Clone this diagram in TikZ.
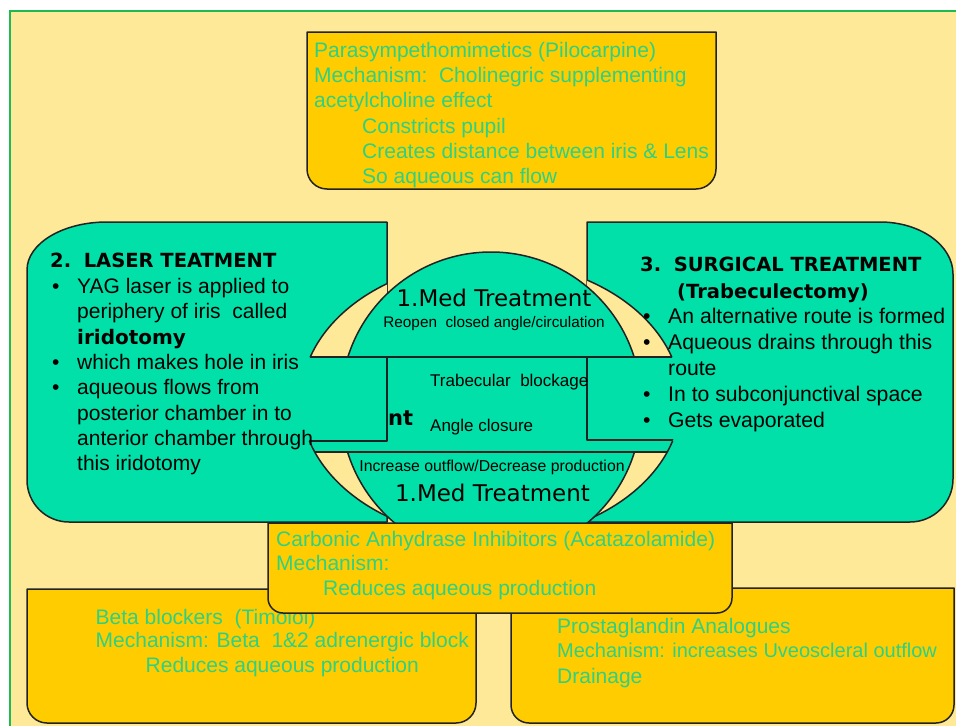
\documentclass[tikz,border=0pt]{standalone}
\usepackage{fontspec}
\setmainfont{Liberation Sans}
\newfontfamily\dejavu{DejaVu Sans}
\definecolor{bgy}{RGB}{254,233,152}
\definecolor{tealf}{RGB}{0,224,168}
\definecolor{goldf}{RGB}{255,204,0}
\definecolor{txtg}{RGB}{46,208,132}
\definecolor{brdg}{RGB}{30,185,80}
\definecolor{edge}{RGB}{34,34,34}
\tikzset{
  outl/.style={draw=edge, line width=1.5pt, line join=round},
  gtxt/.style={anchor=base west, inner sep=0pt, text=txtg, font=\fontsize{21}{25}\selectfont},
  btxt/.style={anchor=base west, inner sep=0pt, text=black, font=\fontsize{21}{25}\selectfont},
  rtxt/.style={anchor=base west, inner sep=0pt, text=black, font=\fontsize{21.2}{25}\selectfont},
  bhead/.style={anchor=base west, inner sep=0pt, text=black, font=\dejavu\bfseries\fontsize{19.5}{23}\selectfont},
  medt/.style={anchor=base, inner sep=0pt, text=black, font=\dejavu\fontsize{23}{27}\selectfont},
  smallt/.style={anchor=base, inner sep=0pt, text=black, font=\fontsize{15.5}{18}\selectfont},
  midt/.style={anchor=base west, inner sep=0pt, text=black, font=\fontsize{17}{20}\selectfont},
}
\newcommand{\bulmark}{\makebox[25pt][l]{•}}
\begin{document}
\begin{tikzpicture}[x=1pt,y=-1pt]
\useasboundingbox (0,0) rectangle (956,726);
\fill[white] (0,0) rectangle (956,726);
\fill[bgy] (10,11) rectangle (956,726);
\draw[brdg, line width=2.5pt] (10,726) -- (10,11) -- (956,11);

% top box
\path[fill=goldf, outl] (307,32) -- (716,32) -- (716,169) arc[start angle=0,end angle=90,radius=20] -- (327,189) arc[start angle=90,end angle=180,radius=20] -- cycle;

% left and right shapes
\path[fill=tealf, outl] (387,222) -- (107,222) arc[start angle=270,end angle=180,x radius=80,y radius=48] -- (27,480) arc[start angle=180,end angle=90,radius=42] -- (387,522) -- cycle;
\path[fill=tealf, outl] (587,222) -- (880,222) arc[start angle=270,end angle=360,x radius=73,y radius=52] -- (953,479) arc[start angle=0,end angle=90,radius=43] -- (587,522) -- cycle;

% crescents
\begin{scope}
  \clip (0,0) rectangle (387,726) (587,0) rectangle (956,726);
  \fill[bgy] (491,400) ellipse[x radius=190,y radius=139];
\end{scope}
% middle band
\begin{scope}
  \clip (491,400) ellipse[x radius=190.6,y radius=139.6];
  \fill[tealf] (250,357) rectangle (730,452);
\end{scope}
% outer ellipse outline
\begin{scope}
  \clip (0,0) rectangle (387,726) (587,0) rectangle (956,726);
  \clip (0,0) rectangle (956,357) (0,441) rectangle (956,726);
  \draw[outl] (491,400) ellipse[x radius=190,y radius=139];
\end{scope}
% domes
\begin{scope}
  \clip (0,0) rectangle (956,357);
  \path[fill=tealf, outl] (491,402) circle[radius=150];
\end{scope}
\begin{scope}
  \clip (0,452) rectangle (956,726);
  \path[fill=tealf, outl] (491,408) circle[radius=150];
\end{scope}
% band lines
\begin{scope}
  \clip (491,400) ellipse[x radius=190,y radius=139];
  \draw[outl] (250,357) -- (730,357);
  \draw[outl] (250,452) -- (730,452);
  \draw[outl] (387,357) -- (387,441) -- (250,441);
  \draw[outl] (587,357) -- (587,440) -- (730,440);
\end{scope}

% top box text
\node[gtxt] (p1) at (314,57) {Parasympethomimetics (Pilocarpine)};
\node[gtxt] (p2) at (314,82.3) {Mechanism:\ \ Cholinegric supplementing};
\node[gtxt] (p3) at (314,107.6) {acetylcholine effect};
\node[gtxt] (p4) at (362,133) {Constricts pupil};
\node[gtxt] (p5) at (362,158.2) {Creates distance between iris \& Lens};
\node[gtxt] (p6) at (362,183.5) {So aqueous can flow};

% left text
\node[bhead] (lh) at (50,267) {2.\hspace{12.6pt}LASER TEATMENT};
\node[btxt] (l1) at (52,293.5) {\bulmark YAG laser is applied to};
\node[btxt] (l2) at (77,318.8) {periphery of iris\ \ called};
\node[bhead, font=\dejavu\bfseries\fontsize{20}{23}\selectfont] (l3) at (77,344.1) {iridotomy};
\node[btxt] (l4) at (52,369.4) {\bulmark which makes hole in iris};
\node[btxt] (l5) at (52,394.7) {\bulmark aqueous flows from};
\node[btxt] (l6) at (77,420) {posterior chamber in to};
\node[btxt] (l7) at (77,445.3) {anterior chamber through};
\node[btxt] (l8) at (77,470.6) {this iridotomy};

% right text
\node[bhead] (rh) at (640,271.7) {3.\hspace{12.6pt}SURGICAL TREATMENT};
\node[bhead] (rh2) at (677,298) {(Trabeculectomy)};
\node[rtxt] (r1) at (643,323.3) {\bulmark An alternative route is formed};
\node[rtxt] (r2) at (643,349.3) {\bulmark Aqueous drains through this};
\node[rtxt] (r3) at (668,375) {route};
\node[rtxt] (r4) at (643,401) {\bulmark In to subconjunctival space};
\node[rtxt] (r5) at (643,427) {\bulmark Gets evaporated};

% centre text
\node[medt] (m1) at (494,306) {1.Med Treatment};
\node[smallt, font=\fontsize{15.3}{18}\selectfont] (m2) at (494,327.3) {Reopen\ \ closed angle/circulation};
\node[midt] (m3) at (430,386.7) {Trabecular\ \ blockage};
\node[bhead, font=\dejavu\bfseries\fontsize{21}{24}\selectfont] (m4) at (388,425) {nt};
\node[midt] (m5) at (430,431.7) {Angle closure};
\node[smallt, font=\fontsize{15.8}{18}\selectfont] (m6) at (492,471.7) {Increase outflow/Decrease production};
\node[medt] (m7) at (492.5,501.7) {1.Med Treatment};

% bottom boxes
\path[fill=goldf, outl] (27,589) -- (476,589) -- (476,703) arc[start angle=0,end angle=90,radius=20] -- (47,723) arc[start angle=90,end angle=180,radius=20] -- cycle;
\path[fill=goldf, outl] (511,588) -- (954,588) -- (954,705) arc[start angle=0,end angle=90,radius=18] -- (529,723) arc[start angle=90,end angle=180,radius=18] -- cycle;
\node[gtxt] (b1) at (95.5,624) {Beta blockers\ \ (Timolol)};
\node[gtxt] (b2) at (95.5,647) {Mechanism: Beta\ \ 1\&2 adrenergic block};
\node[gtxt] (b3) at (145.5,672) {Reduces aqueous production};
\node[gtxt] (g1) at (557,633) {Prostaglandin Analogues};
\node[gtxt, font=\fontsize{20}{25}\selectfont] (g2) at (557,657.5) {Mechanism: increases Uveoscleral outflow};
\node[gtxt] (g3) at (557,683) {Drainage};

\path[fill=goldf, outl] (268,523) -- (732,523) -- (732,598) arc[start angle=0,end angle=90,radius=15] -- (283,613) arc[start angle=90,end angle=180,radius=15] -- cycle;
\node[gtxt] (c1) at (276,546.7) {Carbonic Anhydrase Inhibitors (Acatazolamide)};
\node[gtxt] (c2) at (276,570) {Mechanism:};
\node[gtxt] (c3) at (323,595) {Reduces aqueous production};
\end{tikzpicture}
\end{document}
